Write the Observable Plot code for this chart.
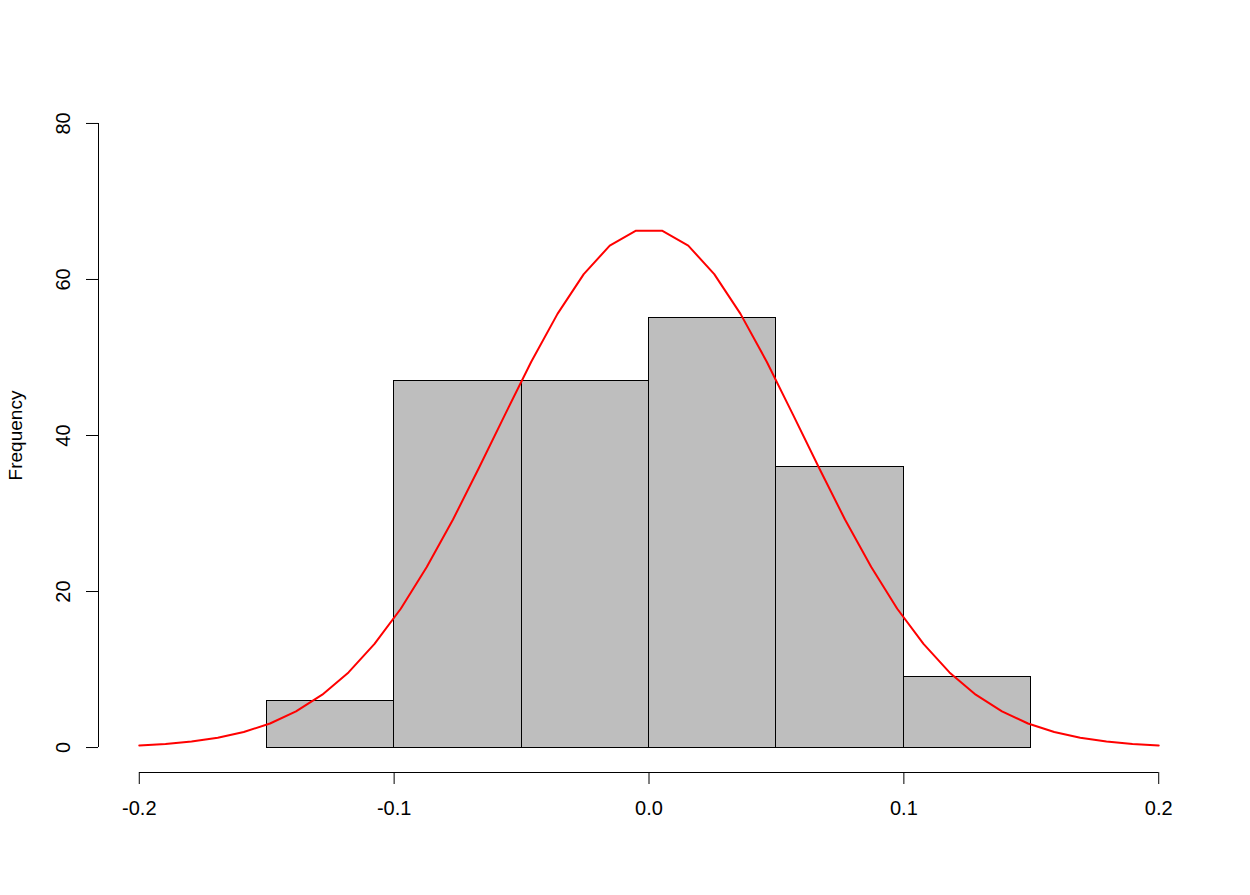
<!DOCTYPE html>
<html>
<head>
<meta charset="utf-8">
<script src="https://cdn.jsdelivr.net/npm/d3@7"></script>
<script src="https://cdn.jsdelivr.net/npm/@observablehq/plot@0.6"></script>
<style>
  html, body { margin: 0; padding: 0; background: #ffffff; }
</style>
</head>
<body>
<div id="chart"></div>
<script>
// Histogram bins (breaks) and counts
const breaks = [-0.15, -0.1, -0.05, 0, 0.05, 0.1, 0.15];
const counts = [6, 47, 47, 55, 36, 9];

// Red density curve
const curveX = [-0.2, -0.1897, -0.1795, -0.1692, -0.1590, -0.1487, -0.1385, -0.1282, -0.1179, -0.1077,
                -0.0974, -0.0872, -0.0769, -0.0667, -0.0564, -0.0462, -0.0359, -0.0256, -0.0154, -0.0051,
                0.0051, 0.0154, 0.0256, 0.0359, 0.0462, 0.0564, 0.0667, 0.0769, 0.0872, 0.0974,
                0.1077, 0.1179, 0.1282, 0.1385, 0.1487, 0.1590, 0.1692, 0.1795, 0.1897, 0.2];
const curveY = [0.26, 0.45, 0.76, 1.25, 1.99, 3.08, 4.64, 6.78, 9.63, 13.28,
                17.79, 23.14, 29.23, 35.87, 42.74, 49.46, 55.59, 60.69, 64.34, 66.25,
                66.25, 64.34, 60.69, 55.59, 49.46, 42.74, 35.87, 29.23, 23.14, 17.79,
                13.28, 9.63, 6.78, 4.64, 3.08, 1.99, 1.25, 0.76, 0.45, 0.26];

// Tick labels
const xTicks = [-0.2, -0.1, 0.0, 0.1, 0.2];
const xTickLabels = ["-0.2", "-0.1", "0.0", "0.1", "0.2"];
const yTicks = [0, 20, 40, 60, 80];
const yTickLabels = ["0", "20", "40", "60", "80"];
const yLabel = "Frequency";

const bars = counts.map((c, i) => ({x1: breaks[i], x2: breaks[i + 1], count: c}));
const curve = curveX.map((x, i) => ({x, y: curveY[i]}));
const xt = xTicks.map((v, i) => ({v, label: xTickLabels[i]}));
const yt = yTicks.map((v, i) => ({v, label: yTickLabels[i]}));

const xDom = [-0.216, 0.216];
const yDom = [-3.2, 83.2];
const FONT = "'Liberation Sans', Arial, Helvetica, sans-serif";
const FS = 20;

const chart = Plot.plot({
  width: 1250,
  height: 895,
  marginLeft: 98,
  marginRight: 51,
  marginTop: 98,
  marginBottom: 123,
  style: {background: "#ffffff", fontFamily: FONT, fontSize: FS + "px", color: "#000"},
  x: {domain: xDom, axis: null},
  y: {domain: yDom, axis: null},
  marks: [
    Plot.rectY(bars, {x1: "x1", x2: "x2", y1: 0, y2: "count", fill: "#bebebe", stroke: "#000", strokeWidth: 1, shapeRendering: "crispEdges"}),
    Plot.line(curve, {x: "x", y: "y", stroke: "#ff0000", strokeWidth: 2}),
    // x axis
    Plot.ruleY([yDom[0]], {x1: xTicks[0], x2: xTicks[xTicks.length - 1], stroke: "#000", shapeRendering: "crispEdges"}),
    Plot.axisX({ticks: xTicks, tickSize: 12, tickFormat: () => "", stroke: "#000"}),
    Plot.text(xt, {x: "v", y: () => yDom[0], text: "label", dy: 36, fontSize: FS, fill: "#000"}),
    // y axis
    Plot.ruleX([xDom[0]], {y1: yTicks[0], y2: yTicks[yTicks.length - 1], stroke: "#000", shapeRendering: "crispEdges"}),
    Plot.axisY({ticks: yTicks, tickSize: 12, tickFormat: () => "", stroke: "#000"}),
    Plot.text(yt, {x: () => xDom[0], y: "v", text: "label", rotate: -90, dx: -35, fontSize: FS, fill: "#000", textAnchor: "middle"}),
    Plot.text([yLabel], {frameAnchor: "left", text: d => d, rotate: -90, dx: -83, fontSize: FS - 1, fill: "#000", textAnchor: "middle"})
  ]
});
document.getElementById("chart").appendChild(chart);
</script>
</body>
</html>
